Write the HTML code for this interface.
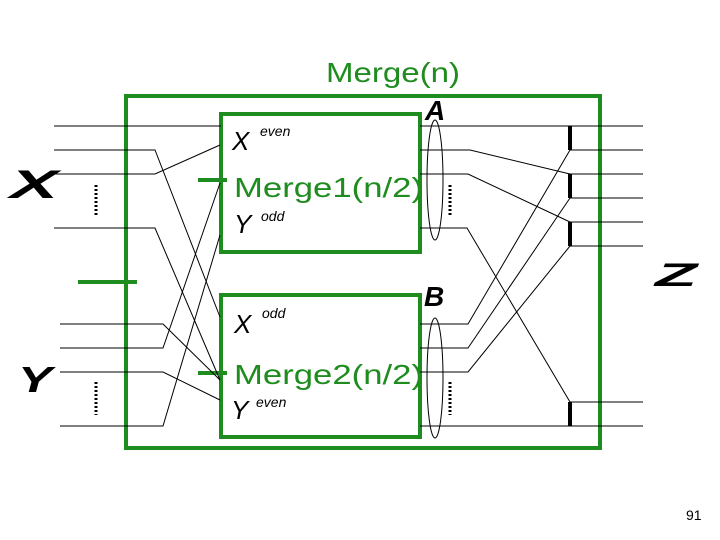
<!DOCTYPE html>
<html><head><style>
html,body{margin:0;padding:0;background:#fff;}
svg{display:block;}
text{font-family:"Liberation Sans",sans-serif;}
</style></head><body>
<svg width="720" height="540" viewBox="0 0 720 540" xmlns="http://www.w3.org/2000/svg">
<g fill="none" stroke="#1e8c1e" stroke-width="4">
<rect x="126" y="96" width="474" height="352"/>
<rect x="221" y="114" width="199" height="138"/>
<rect x="221" y="295" width="199" height="142"/>
<line x1="78" y1="282" x2="137" y2="282"/>
<line x1="198" y1="180" x2="227" y2="180"/>
<line x1="198" y1="373" x2="227" y2="373"/>
</g>
<g fill="none" stroke="#000" stroke-width="1">
<line x1="54" y1="126" x2="221" y2="126"/>
<polyline points="54,150 155,150 220,317"/>
<polyline points="54,174 155,174 220,145"/>
<polyline points="54,228 155,228 220,380"/>
<polyline points="60,324 163,324 220,380"/>
<polyline points="60,348 163,348 220,183"/>
<polyline points="60,372 163,372 220,400"/>
<polyline points="60,426 163,426 220,235"/>
<line x1="420" y1="126" x2="643" y2="126"/>
<polyline points="420,150 470,150 570,174"/>
<polyline points="420,174 468,174 570,222"/>
<polyline points="420,228 467,228 570,402"/>
<polyline points="420,324 468,324 570,150"/>
<polyline points="420,348 468,348 570,198"/>
<polyline points="420,372 468,372 570,246"/>
<line x1="420" y1="426" x2="643" y2="426"/>
<line x1="570" y1="150" x2="643" y2="150"/>
<line x1="570" y1="174" x2="643" y2="174"/>
<line x1="570" y1="198" x2="643" y2="198"/>
<line x1="570" y1="222" x2="643" y2="222"/>
<line x1="570" y1="246" x2="643" y2="246"/>
<line x1="570" y1="402" x2="643" y2="402"/>
<ellipse cx="435" cy="180" rx="8" ry="60"/>
<ellipse cx="435" cy="378" rx="8" ry="60"/>
</g>
<g stroke="#000" stroke-width="4">
<line x1="570" y1="126" x2="570" y2="150"/>
<line x1="570" y1="174" x2="570" y2="198"/>
<line x1="570" y1="222" x2="570" y2="246"/>
<line x1="570" y1="402" x2="570" y2="426"/>
</g>
<g stroke="#000" stroke-width="3" stroke-dasharray="2,2">
<line x1="96" y1="185" x2="96" y2="217"/>
<line x1="96" y1="382" x2="96" y2="415"/>
<line x1="450" y1="185" x2="450" y2="217"/>
<line x1="450" y1="382" x2="450" y2="415"/>
</g>
<g fill="#1e8c1e" font-size="28">
<text x="326" y="82" textLength="134" lengthAdjust="spacingAndGlyphs">Merge(n)</text>
<text x="234" y="197" textLength="189" lengthAdjust="spacingAndGlyphs">Merge1(n/2)</text>
<text x="234" y="384" textLength="189" lengthAdjust="spacingAndGlyphs">Merge2(n/2)</text>
</g>
<g fill="#000" font-style="italic">
<text x="232" y="150" font-size="26">X</text>
<text x="260" y="136" font-size="14">even</text>
<text x="234" y="233" font-size="26">Y</text>
<text x="261" y="221" font-size="14">odd</text>
<text x="234" y="333" font-size="26">X</text>
<text x="262" y="318" font-size="14">odd</text>
<text x="231" y="419" font-size="26">Y</text>
<text x="256" y="407" font-size="14">even</text>
<text x="425" y="120" font-size="28" font-weight="bold">A</text>
<text x="424" y="306" font-size="28" font-weight="bold">B</text>
<text x="10" y="198" font-size="40" font-weight="bold" textLength="48" lengthAdjust="spacingAndGlyphs">X</text>
<text x="18" y="392" font-size="36" font-weight="bold" textLength="34" lengthAdjust="spacingAndGlyphs">Y</text>
<text x="655" y="286" font-size="32" font-weight="bold" textLength="42" lengthAdjust="spacingAndGlyphs">Z</text>
</g>
<text x="686" y="520" font-size="14" font-family="Liberation Serif" fill="#000">91</text>
</svg>
</body></html>
